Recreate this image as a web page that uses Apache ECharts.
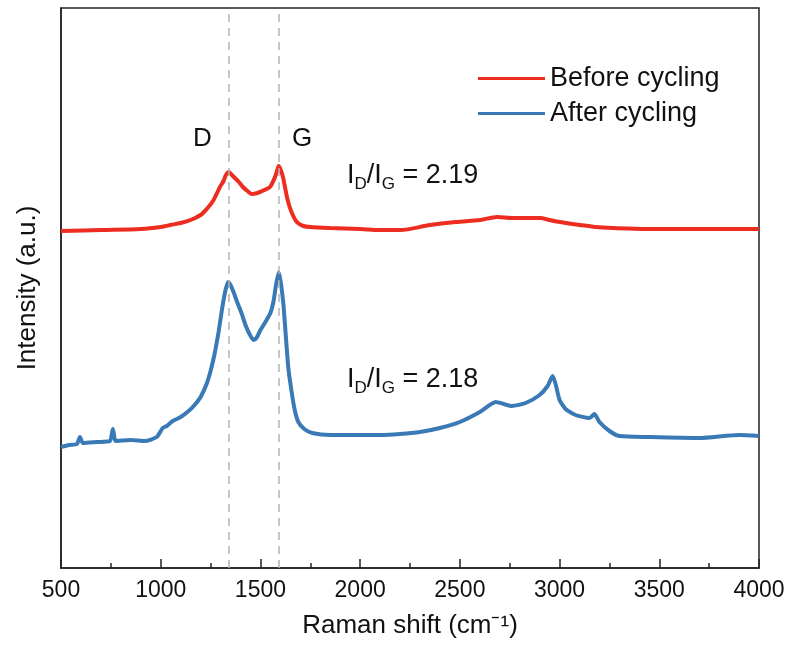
<!DOCTYPE html>
<html>
<head>
<meta charset="utf-8">
<script src="https://cdn.jsdelivr.net/npm/echarts@6/dist/echarts.min.js"></script>
<style>
  html, body { margin: 0; padding: 0; background: #fff; }
  #chart { width: 790px; height: 650px; }
</style>
</head>
<body>
<div id="chart"></div>
<script>
// Raman spectra, intensity in arbitrary units (stacked offset as in the figure)
var beforeShift = [500, 700, 900, 1000, 1050, 1100, 1150, 1200, 1235, 1262, 1280, 1297, 1315, 1327, 1342, 1357, 1372, 1392, 1412, 1435, 1458, 1485, 1508, 1530, 1548, 1562, 1573, 1583, 1592, 1602, 1613, 1623, 1633, 1645, 1658, 1672, 1688, 1715, 1749, 1850, 2000, 2100, 2200, 2351, 2480, 2602, 2687, 2760, 2830, 2902, 2950, 3003, 3103, 3180, 3268, 3438, 3700, 3990, 4000];
var beforeInt = [337, 338, 339, 341, 343, 345, 348, 353, 360, 367, 374, 381, 387, 393, 396, 393, 390, 386, 381, 377, 374, 375, 377, 379, 381, 386, 391, 397, 402, 398, 391, 381, 371, 362, 355, 349, 345, 342, 341, 340, 339, 338, 338, 343, 346, 348, 351, 350, 350, 350, 348, 346, 343, 341, 340, 339, 339, 339, 339];

var afterShift = [500, 540, 580, 595, 610, 680, 745, 760, 775, 850, 920, 980, 1010, 1030, 1060, 1100, 1140, 1170, 1200, 1230, 1250, 1270, 1290, 1310, 1325, 1338, 1350, 1365, 1385, 1405, 1425, 1445, 1465, 1480, 1500, 1525, 1550, 1565, 1578, 1592, 1604, 1616, 1628, 1640, 1655, 1672, 1690, 1720, 1760, 1850, 2000, 2100, 2200, 2300, 2400, 2500, 2600, 2680, 2720, 2760, 2830, 2900, 2940, 2965, 2980, 3000, 3030, 3080, 3150, 3175, 3200, 3250, 3300, 3450, 3700, 3900, 4000];
var afterInt = [121, 123, 124, 131, 125, 126, 127, 139, 127, 128, 127, 131, 140, 142, 147, 151, 157, 163, 171, 184, 197, 214, 236, 262, 278, 286, 283, 276, 265, 255, 243, 234, 228, 230, 238, 246, 255, 266, 283, 296, 283, 262, 230, 200, 178, 158, 146, 139, 135, 133, 133, 133, 134, 136, 140, 146, 156, 166, 164, 162, 165, 173, 182, 192, 184, 168, 159, 153, 150, 154, 146, 137, 132, 131, 130, 133, 132];

var seriesNames = ['Before cycling', 'After cycling'];
var peakPositions = [1340, 1590]; // D and G bands
var ratioLabels = ['2.19', '2.18'];

function pairs(xs, ys) {
  var out = [];
  for (var i = 0; i < xs.length; i++) out.push([xs[i], ys[i]]);
  return out;
}

var font = 'Liberation Sans, Arial, Helvetica, sans-serif';

function ratioText(val) {
  return '{m|I}{s|D}{m|/I}{s|G}{m| = ' + val + '}';
}
var ratioRich = {
  m: { fontSize: 27, fontFamily: font, fill: '#111', lineHeight: 34 },
  s: { fontSize: 17, fontFamily: font, fill: '#111', lineHeight: 17, verticalAlign: 'bottom' }
};

var chart = echarts.init(document.getElementById('chart'));

chart.setOption({
  backgroundColor: '#fff',
  animation: false,
  grid: {
    left: 61, right: 31, top: 8, bottom: 82,
    show: true, borderColor: '#222', borderWidth: 1.5, backgroundColor: 'transparent'
  },
  legend: {
    orient: 'vertical',
    left: 473, top: 60,
    itemWidth: 67, itemHeight: 3, itemGap: 8,
    icon: 'rect',
    textStyle: { fontSize: 27, fontFamily: font, color: '#111', lineHeight: 27 },
    data: seriesNames
  },
  xAxis: {
    type: 'value',
    min: 500, max: 4000, interval: 500,
    name: 'Raman shift (cm\u207B\u00B9)',
    nameLocation: 'middle', nameGap: 45,
    nameTextStyle: { fontSize: 26, fontFamily: font, color: '#111' },
    axisLine: { show: true, lineStyle: { color: '#222', width: 1.5 } },
    axisTick: { show: true, inside: true, length: 9, lineStyle: { color: '#222', width: 1.5 } },
    minorTick: { show: true, splitNumber: 2, length: 5, lineStyle: { color: '#222', width: 1.5 } },
    axisLabel: {
      fontSize: 23, fontFamily: font, color: '#111', margin: 11,
      formatter: function (v) { return String(v); }
    },
    splitLine: { show: false }
  },
  yAxis: {
    type: 'value',
    min: 0, max: 560,
    name: 'Intensity (a.u.)',
    nameLocation: 'middle', nameGap: 20,
    nameTextStyle: { fontSize: 26, fontFamily: font, color: '#111' },
    axisLine: { show: true, lineStyle: { color: '#222', width: 1.5 } },
    axisTick: { show: false },
    axisLabel: { show: false },
    splitLine: { show: false }
  },
  series: [
    {
      name: seriesNames[0],
      type: 'line',
      data: pairs(beforeShift, beforeInt),
      symbol: 'none',
      smooth: 0.3,
      color: '#ec2d1f',
      lineStyle: { width: 4, color: '#ec2d1f' },
      z: 3,
      markLine: {
        silent: true,
        symbol: 'none',
        label: { show: false },
        lineStyle: { color: '#b4b4b4', type: [8, 6], width: 1.5 },
        data: peakPositions.map(function (p) { return { xAxis: p }; })
      }
    },
    {
      name: seriesNames[1],
      type: 'line',
      data: pairs(afterShift, afterInt),
      symbol: 'none',
      smooth: 0.2,
      color: '#3979b5',
      lineStyle: { width: 4, color: '#3979b5' },
      z: 3
    }
  ],
  graphic: [
    { type: 'text', left: 193, top: 126, style: { text: 'D', fontSize: 26, fontFamily: font, fill: '#111' } },
    { type: 'text', left: 292, top: 126, style: { text: 'G', fontSize: 26, fontFamily: font, fill: '#111' } },
    { type: 'text', left: 347, top: 162, style: { text: ratioText(ratioLabels[0]), rich: ratioRich } },
    { type: 'text', left: 347, top: 366, style: { text: ratioText(ratioLabels[1]), rich: ratioRich } }
  ]
});
</script>
</body>
</html>
